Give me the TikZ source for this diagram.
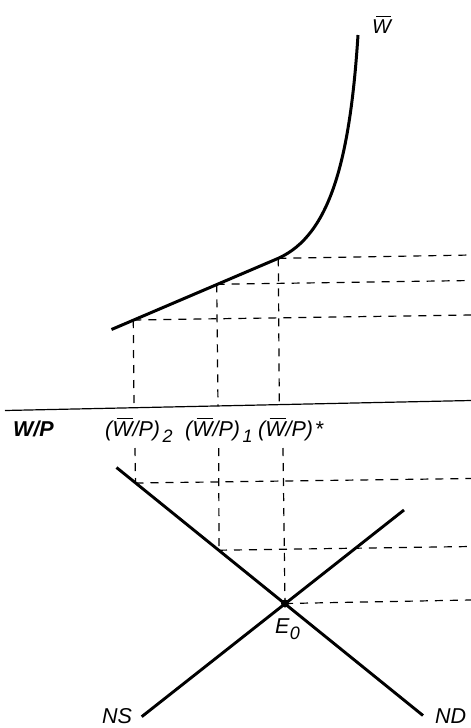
\documentclass[tikz,border=0pt]{standalone}
\usepackage{fontspec}
\setmainfont{Liberation Sans}
\newcommand\Wb{\leavevmode\rlap{\kern0.2em\rule[0.8em]{0.74em}{0.07em}}W}
\newcommand\subx[1]{\kern0.12em\raisebox{-0.3em}{\fontsize{18}{18}\selectfont #1}}
\newcommand\subz[1]{\kern0.02em\raisebox{-0.3em}{\fontsize{18}{18}\selectfont #1}}
\begin{document}
\begin{tikzpicture}[x=1pt,y=-1pt,
  lbl/.style={font=\fontsize{21.5}{24}\selectfont\itshape, inner sep=0pt, anchor=base west},
  curveline/.style={line width=3pt},
  schedule/.style={line width=2.9pt},
  axisline/.style={line width=1.2pt},
  guide/.style={line width=1.2pt, dash pattern=on 8pt off 7pt}]
\useasboundingbox (0,0) rectangle (471,728);
% upper panel
\coordinate (c0) at (111.5,329.5);
\coordinate (c2) at (133.3,320);
\coordinate (c1) at (216.7,284.3);
\coordinate (cs) at (278.3,258.3);
\coordinate (ctop) at (358,35);
\coordinate (r2) at (471,315);
\coordinate (r1) at (471,280.5);
\coordinate (rs) at (471,255);
\coordinate (a0) at (5,410.5);
\coordinate (a1) at (471,400.5);
\coordinate (b2) at (134,407.3);
\coordinate (b1) at (218,406);
\coordinate (bs) at (279.3,404.6);
\draw[curveline] (c0) -- (cs) .. controls (330,235) and (350,160) .. (ctop);
\draw[guide] (c2) -- (r2);
\draw[guide] (c1) -- (r1);
\draw[guide] (cs) -- (rs);
\draw[guide] (c2) -- (b2);
\draw[guide] (c1) -- (b1);
\draw[guide] (cs) -- (bs);
\draw[axisline] (a0) -- (a1);
\node[lbl, font=\fontsize{20}{22}\selectfont\itshape] (wtop) at (372,33) {\Wb};
\node[lbl] (wp) at (13,436.5) {\bfseries W/P};
\node[lbl] (l2) at (105,436.5) {(\Wb/P)\subx{2}};
\node[lbl] (l1) at (185,436.5) {(\Wb/P)\subx{1}};
\node[lbl] (ls) at (258,436.5) {(\Wb/P)\kern0.08em*};
% lower panel
\coordinate (nd0) at (116.5,467.5);
\coordinate (nd1) at (423,715.5);
\coordinate (ns0) at (141.7,716.7);
\coordinate (ns1) at (404,510);
\coordinate (p2) at (135.5,483);
\coordinate (p1) at (219,550.2);
\coordinate (d2) at (135,448);
\coordinate (d1) at (218.7,448);
\coordinate (ds) at (283,448);
\coordinate (q2) at (471,478.5);
\coordinate (q1) at (471,546.5);
\coordinate (qe) at (471,600);
\draw[schedule] (nd0) -- (nd1);
\draw[schedule] (ns0) -- (ns1);
\node[circle, fill, inner sep=0pt, minimum size=8pt] (E0) at (285,603.5) {};
\draw[guide] (d2) -- (p2);
\draw[guide] (d1) -- (p1);
\draw[guide] (ds) -- (E0.center);
\draw[guide] (p2) -- (q2);
\draw[guide] (p1) -- (q1);
\draw[guide] (E0.center) -- (qe);
\node[lbl] (e0l) at (275,633) {E\subz{0}};
\node[lbl] (nsl) at (102,723) {NS};
\node[lbl] (ndl) at (435,723) {ND};
\end{tikzpicture}
\end{document}
